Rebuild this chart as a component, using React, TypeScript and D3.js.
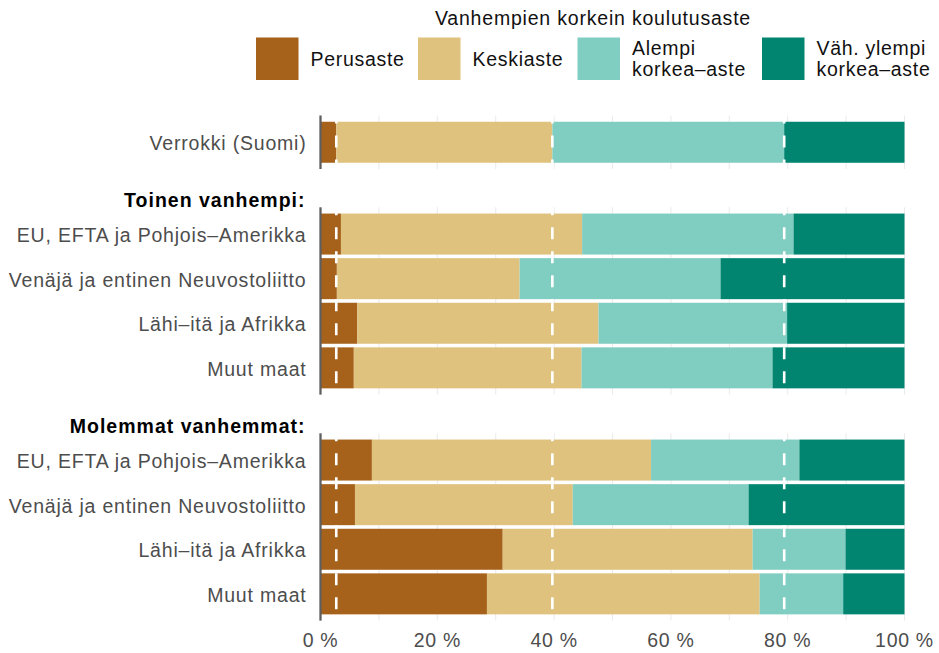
import React from "react";
import * as d3 from "d3";

const levels = ["Perusaste", "Keskiaste", "Alempi korkea–aste", "Väh. ylempi korkea–aste"];
const legendLines = [["Perusaste"], ["Keskiaste"], ["Alempi", "korkea–aste"], ["Väh. ylempi", "korkea–aste"]];
const colors = ["#a6611a", "#dfc27d", "#80cdc1", "#018571"];

const panels = ["", "Toinen vanhempi:", "Molemmat vanhemmat:"];
const rowLabels = [
  "Verrokki (Suomi)",
  "EU, EFTA ja Pohjois–Amerikka",
  "Venäjä ja entinen Neuvostoliitto",
  "Lähi–itä ja Afrikka",
  "Muut maat",
  "EU, EFTA ja Pohjois–Amerikka",
  "Venäjä ja entinen Neuvostoliitto",
  "Lähi–itä ja Afrikka",
  "Muut maat",
];
const rowPanel = [0, 1, 1, 1, 1, 2, 2, 2, 2];

const perusaste = [2.7, 3.5, 2.8, 6.3, 5.7, 8.8, 5.9, 31.2, 28.5];
const keskiaste = [37.0, 41.3, 31.3, 41.3, 39.0, 47.8, 37.3, 42.8, 46.7];
const alempi = [39.7, 36.2, 34.4, 32.3, 32.7, 25.4, 30.1, 15.9, 14.3];
const ylempi = [20.6, 19.0, 31.5, 20.1, 22.6, 18.0, 26.7, 10.1, 10.5];

const xTicks = [0, 20, 40, 60, 80, 100];
const gridVals = [0, 10, 20, 30, 40, 50, 60, 70, 80, 90, 100];

const FONT = "'Liberation Sans', Arial, Helvetica, sans-serif";
const FS = 19.5;
const LS = 0.7;

export default function App() {
  const W = 939, H = 653;
  const x = d3.scaleLinear().domain([0, 100]).range([320.5, 904.5]);
  const step = 44.6;
  const panelTops = [115.5, 207.3, 433.3];
  const panelCounts = panels.map((_, p) => rowPanel.filter((r) => r === p).length);
  const panelScales = panelTops.map((top, p) => {
    const doms = rowLabels.map((_, i) => i).filter((i) => rowPanel[i] === p);
    return d3
      .scalePoint<number>()
      .domain(doms)
      .range([top, top + step * (panelCounts[p] + 0.2)])
      .padding(0.6);
  });
  const barH = 41;

  const stackData = rowLabels.map((_, i) => ({
    i,
    p0: perusaste[i],
    p1: keskiaste[i],
    p2: alempi[i],
    p3: ylempi[i],
  }));
  const stacked = d3.stack<any>().keys(["p0", "p1", "p2", "p3"])(stackData);

  // reference dashed lines: cumulative shares for Verrokki
  const refVals = [perusaste[0], perusaste[0] + keskiaste[0], perusaste[0] + keskiaste[0] + alempi[0]];

  const legendKeyX = [256, 418, 577.5, 762];
  const keySize = 42.5;
  const keyY = 37.5;

  return (
    <svg width={W} height={H} style={{ position: "absolute", left: 0, top: 0 }} fontFamily={FONT}>
      <rect x={0} y={0} width={W} height={H} fill="#fff" />
      {/* legend */}
      <text x={593} y={18} textAnchor="middle" dominantBaseline="central" fontSize={FS} letterSpacing={LS + 0.1} fill="#111">
        Vanhempien korkein koulutusaste
      </text>
      {levels.map((lv, k) => (
        <g key={lv}>
          <rect x={legendKeyX[k]} y={keyY} width={keySize} height={keySize} fill={colors[k]} />
          {legendLines[k].map((ln, j) => (
            <text
              key={j}
              x={legendKeyX[k] + keySize + 12}
              y={keyY + keySize / 2 + (j - (legendLines[k].length - 1) / 2) * 21}
              dominantBaseline="central"
              fontSize={FS}
              letterSpacing={LS}
              fill="#111"
            >
              {ln}
            </text>
          ))}
        </g>
      ))}

      {/* grid */}
      {panelTops.map((top, p) => {
        const bottom = top + step * (panelCounts[p] + 0.2);
        return (
          <g key={p}>
            {gridVals.map((g) => (
              <line key={g} x1={x(g)} x2={x(g)} y1={top} y2={bottom} stroke="#ebebeb" strokeWidth={1.1} />
            ))}
          </g>
        );
      })}

      {/* bars */}
      {stacked.map((s, k) => (
        <g key={k} fill={colors[k]}>
          {s.map((d: any, idx: number) => {
            const i = stackData[idx].i;
            const cy = panelScales[rowPanel[i]](i) as number;
            return <rect key={idx} x={x(d[0])} y={cy - barH / 2} width={x(d[1]) - x(d[0])} height={barH} />;
          })}
        </g>
      ))}

      {/* dashed reference lines */}
      {panelTops.map((top, p) => {
        const bottom = top + step * (panelCounts[p] + 0.2);
        return (
          <g key={"r" + p}>
            {refVals.map((v, j) => (
              <line
                key={j}
                x1={x(v)}
                x2={x(v)}
                y1={top}
                y2={bottom}
                stroke="#fff"
                strokeWidth={2.6}
                strokeDasharray="12 12"
                strokeDashoffset={4}
              />
            ))}
          </g>
        );
      })}

      {/* axis lines */}
      {panelTops.map((top, p) => {
        const bottom = top + step * (panelCounts[p] + 0.2);
        return <line key={"a" + p} x1={x(0)} x2={x(0)} y1={top} y2={bottom} stroke="#5f5f5f" strokeWidth={2.3} />;
      })}

      {/* row labels */}
      {rowLabels.map((lb, i) => (
        <text
          key={i}
          x={306.5}
          y={(panelScales[rowPanel[i]](i) as number) + 1}
          textAnchor="end"
          dominantBaseline="central"
          fontSize={FS}
          letterSpacing={LS + 0.1}
          fill="#4d4d4d"
        >
          {lb}
        </text>
      ))}

      {/* panel titles */}
      {panels.map((t, p) =>
        t ? (
          <text
            key={t}
            x={305.5}
            y={panelTops[p] - 7.5}
            textAnchor="end"
            dominantBaseline="central"
            fontSize={FS}
            letterSpacing={LS + 0.3}
            fontWeight="bold"
            fill="#000"
          >
            {t}
          </text>
        ) : null
      )}

      {/* x tick labels */}
      {xTicks.map((t) => (
        <text
          key={t}
          x={x(t)}
          y={640}
          textAnchor="middle"
          dominantBaseline="central"
          fontSize={FS}
          letterSpacing={LS}
          fill="#4d4d4d"
        >
          {`${t} %`}
        </text>
      ))}
    </svg>
  );
}
